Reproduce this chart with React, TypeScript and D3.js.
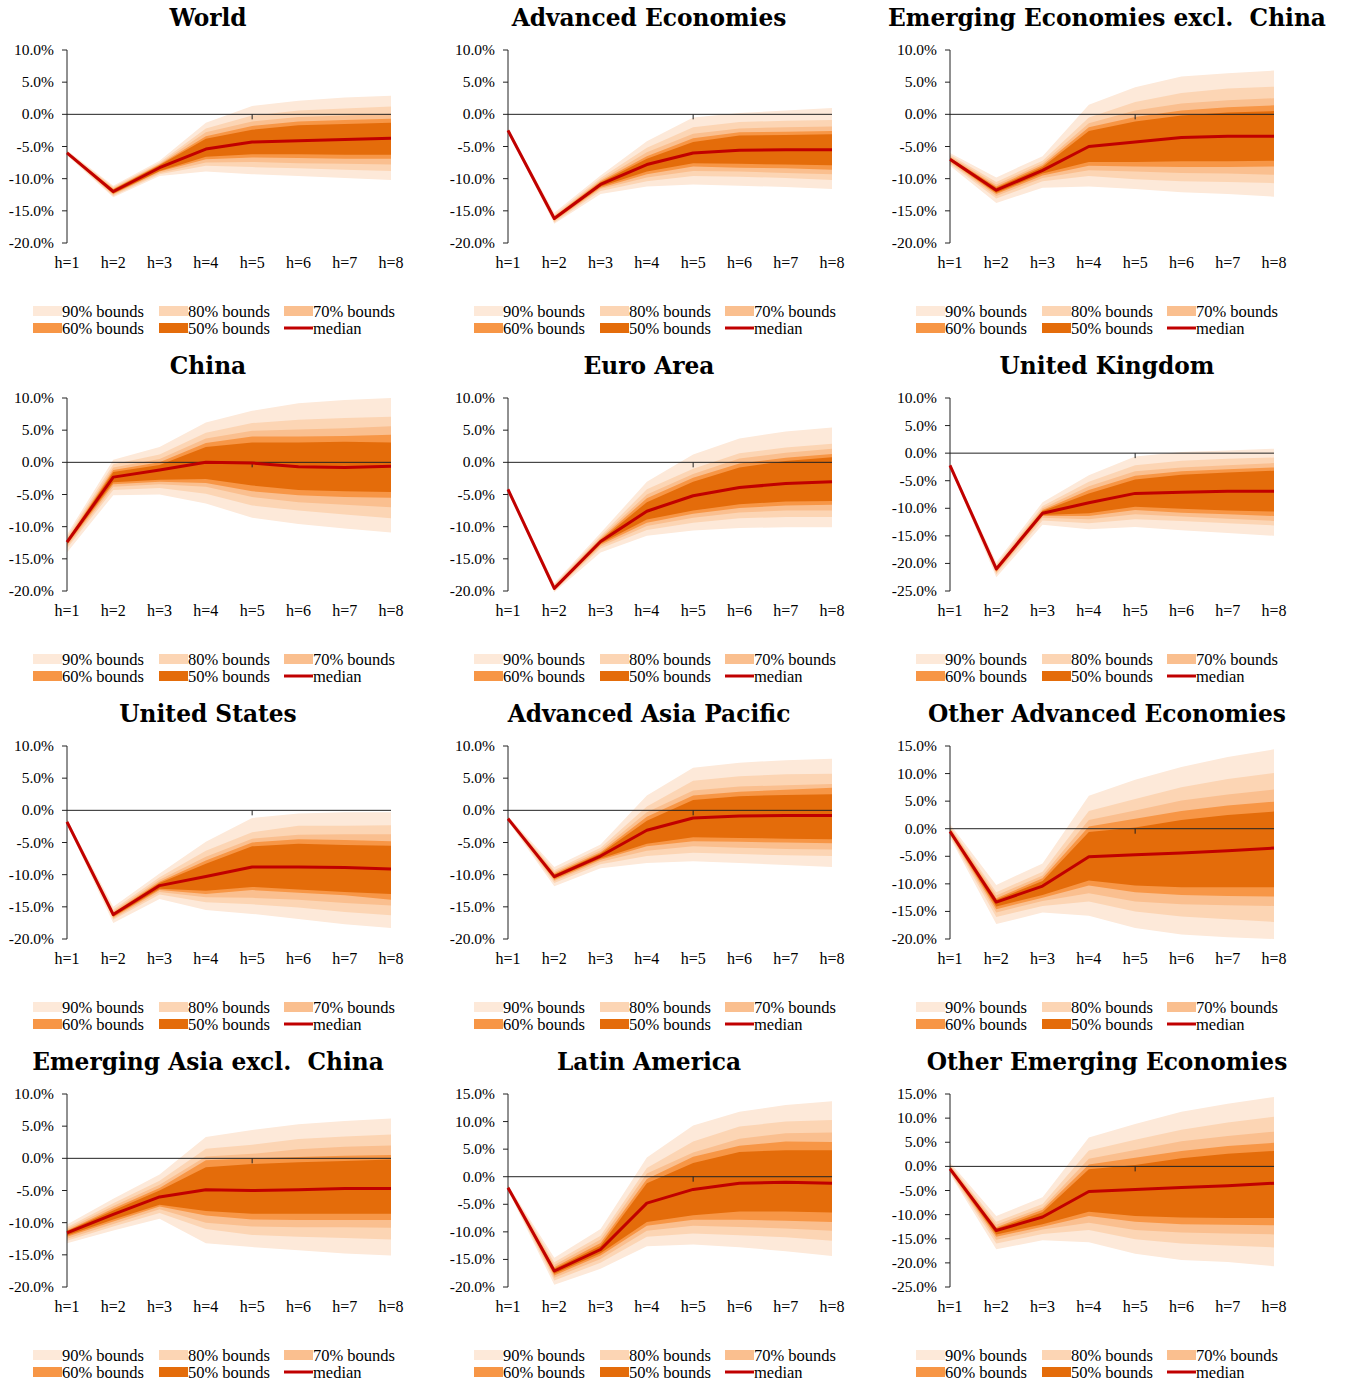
import React from 'react';
import * as d3 from 'd3';

// horizons on the x axis
const horizons = ['h=1', 'h=2', 'h=3', 'h=4', 'h=5', 'h=6', 'h=7', 'h=8'];
const bandNames = ['90% bounds', '80% bounds', '70% bounds', '60% bounds', '50% bounds'];

// each panel: median, upper bounds (90,80,70,60,50), lower bounds (90,80,70,60,50)
const world_median = [-6.0, -12.0, -8.3, -5.4, -4.3, -4.1, -3.9, -3.7];
const world_upper = [
  [-5.6, -11.1, -7.2, -1.3, 1.3, 2.1, 2.6, 2.9],
  [-5.7, -11.3, -7.5, -2.2, -0.2, 0.6, 0.9, 1.2],
  [-5.8, -11.5, -7.7, -2.8, -1.1, -0.4, -0.2, 0.1],
  [-5.85, -11.6, -7.8, -3.4, -1.8, -1.1, -0.9, -0.7],
  [-5.9, -11.7, -7.9, -3.8, -2.4, -1.7, -1.5, -1.3],
];
const world_lower = [
  [-6.4, -12.9, -9.6, -8.9, -9.3, -9.6, -9.9, -10.2],
  [-6.3, -12.7, -9.3, -8.0, -8.2, -8.4, -8.6, -8.8],
  [-6.2, -12.5, -9.1, -7.5, -7.4, -7.6, -7.7, -7.8],
  [-6.15, -12.4, -8.9, -7.0, -6.7, -6.8, -6.9, -6.9],
  [-6.1, -12.3, -8.8, -6.6, -6.2, -6.2, -6.3, -6.3],
];

const adv_median = [-2.5, -16.2, -10.9, -7.8, -6.0, -5.6, -5.5, -5.5];
const adv_upper = [
  [-2.2, -15.3, -9.5, -4.2, -0.5, 0.2, 0.6, 1.0],
  [-2.3, -15.6, -9.9, -5.2, -2.0, -1.2, -1.0, -0.9],
  [-2.35, -15.8, -10.2, -5.9, -3.0, -2.2, -2.0, -1.9],
  [-2.4, -15.9, -10.4, -6.5, -3.7, -2.8, -2.7, -2.6],
  [-2.45, -16.0, -10.6, -6.9, -4.3, -3.3, -3.2, -3.1],
];
const adv_lower = [
  [-2.8, -17.0, -12.4, -11.2, -10.9, -11.1, -11.3, -11.6],
  [-2.7, -16.8, -11.9, -10.4, -9.6, -9.7, -9.9, -10.2],
  [-2.65, -16.6, -11.6, -9.8, -8.8, -8.9, -9.1, -9.3],
  [-2.6, -16.5, -11.4, -9.3, -8.1, -8.3, -8.4, -8.6],
  [-2.55, -16.4, -11.2, -8.9, -7.6, -7.7, -7.8, -7.9],
];

const emxc_median = [-7.0, -11.8, -8.7, -5.0, -4.3, -3.6, -3.4, -3.4];
const emxc_upper = [
  [-6.0, -9.8, -6.5, 1.5, 4.2, 5.9, 6.4, 6.8],
  [-6.3, -10.5, -7.2, -0.5, 1.9, 3.3, 4.0, 4.3],
  [-6.5, -10.9, -7.6, -1.4, 0.6, 1.7, 2.2, 2.5],
  [-6.7, -11.2, -7.9, -2.0, -0.4, 0.6, 1.1, 1.4],
  [-6.8, -11.4, -8.2, -2.6, -1.1, -0.2, 0.3, 0.5],
];
const emxc_lower = [
  [-8.0, -13.8, -11.4, -11.2, -11.6, -12.1, -12.4, -12.8],
  [-7.7, -13.1, -10.4, -9.6, -10.1, -10.4, -10.5, -10.7],
  [-7.5, -12.7, -9.9, -8.7, -8.9, -9.1, -9.2, -9.4],
  [-7.3, -12.4, -9.5, -8.0, -8.1, -8.2, -8.2, -8.1],
  [-7.2, -12.2, -9.2, -7.4, -7.4, -7.3, -7.3, -7.2],
];

const china_median = [-12.4, -2.3, -1.2, 0.0, -0.1, -0.7, -0.8, -0.6];
const china_upper = [
  [-11.2, 0.4, 2.4, 6.2, 8.0, 9.2, 9.7, 10.0],
  [-11.6, -0.3, 1.2, 4.6, 6.1, 6.6, 6.9, 7.1],
  [-11.9, -0.8, 0.5, 3.7, 4.9, 5.1, 5.3, 5.6],
  [-12.1, -1.2, 0.0, 3.0, 4.0, 4.0, 4.1, 4.3],
  [-12.2, -1.5, -0.4, 2.4, 3.1, 3.1, 3.2, 3.1],
];
const china_lower = [
  [-14.0, -5.1, -5.0, -6.4, -8.6, -9.6, -10.3, -10.9],
  [-13.4, -4.3, -4.0, -4.9, -6.7, -7.5, -8.1, -8.7],
  [-13.1, -3.8, -3.4, -3.8, -5.4, -6.2, -6.6, -7.0],
  [-12.8, -3.4, -3.0, -3.2, -4.5, -5.1, -5.4, -5.5],
  [-12.6, -3.1, -2.7, -2.6, -3.6, -4.3, -4.5, -4.6],
];

const euro_median = [-4.2, -19.6, -12.3, -7.6, -5.2, -3.9, -3.3, -3.0];
const euro_upper = [
  [-3.9, -18.8, -11.0, -3.0, 1.2, 3.7, 4.8, 5.4],
  [-4.0, -19.0, -11.4, -4.2, -1.0, 1.4, 2.3, 2.9],
  [-4.05, -19.2, -11.7, -5.0, -1.8, 0.6, 1.5, 2.1],
  [-4.1, -19.3, -11.9, -5.6, -2.4, -0.2, 0.7, 1.3],
  [-4.15, -19.4, -12.1, -6.2, -3.0, -0.8, 0.2, 0.8],
];
const euro_lower = [
  [-4.5, -20.2, -14.0, -11.4, -10.6, -10.2, -10.1, -10.1],
  [-4.4, -20.0, -13.4, -10.5, -9.4, -8.7, -8.5, -8.5],
  [-4.35, -19.9, -13.1, -9.9, -8.6, -7.8, -7.5, -7.5],
  [-4.3, -19.8, -12.8, -9.4, -8.0, -7.1, -6.7, -6.6],
  [-4.25, -19.7, -12.6, -8.9, -7.5, -6.5, -6.1, -6.0],
];

const uk_median = [-2.2, -21.0, -10.9, -9.0, -7.3, -7.1, -6.9, -6.9];
const uk_upper = [
  [-1.9, -19.8, -8.9, -4.0, -0.6, 0.2, 0.5, 0.8],
  [-2.0, -20.2, -9.6, -5.2, -2.2, -1.4, -1.0, -0.8],
  [-2.05, -20.5, -10.0, -6.0, -3.3, -2.6, -2.2, -1.8],
  [-2.1, -20.7, -10.3, -6.7, -4.1, -3.3, -2.9, -2.6],
  [-2.15, -20.8, -10.5, -7.3, -4.8, -3.9, -3.5, -3.2],
];
const uk_lower = [
  [-2.6, -22.5, -13.0, -13.8, -13.4, -14.0, -14.5, -15.0],
  [-2.5, -22.0, -12.2, -12.7, -12.0, -12.3, -12.7, -13.1],
  [-2.4, -21.7, -11.7, -12.0, -11.1, -11.5, -11.9, -12.3],
  [-2.35, -21.5, -11.4, -11.4, -10.3, -10.8, -11.1, -11.4],
  [-2.3, -21.3, -11.2, -10.9, -9.7, -10.1, -10.4, -10.6],
];

const us_median = [-1.8, -16.2, -11.7, -10.3, -8.8, -8.8, -8.9, -9.1];
const us_upper = [
  [-1.4, -15.0, -9.8, -4.9, -1.2, -0.5, -0.3, -0.3],
  [-1.5, -15.4, -10.4, -6.3, -3.4, -2.4, -2.4, -2.3],
  [-1.6, -15.7, -10.8, -7.2, -4.4, -3.8, -3.7, -3.7],
  [-1.65, -15.9, -11.1, -7.8, -5.0, -4.5, -4.6, -4.8],
  [-1.7, -16.0, -11.3, -8.3, -5.6, -5.2, -5.4, -5.5],
];
const us_lower = [
  [-2.2, -17.5, -13.8, -15.5, -16.1, -16.9, -17.7, -18.3],
  [-2.1, -17.0, -13.1, -14.3, -14.6, -15.1, -15.8, -16.3],
  [-2.0, -16.8, -12.7, -13.5, -13.6, -13.9, -14.4, -14.8],
  [-1.95, -16.6, -12.4, -13.0, -12.4, -12.8, -13.2, -13.9],
  [-1.9, -16.5, -12.2, -12.5, -11.9, -12.3, -12.7, -13.0],
];

const aap_median = [-1.3, -10.3, -7.1, -3.1, -1.2, -0.9, -0.8, -0.8];
const aap_upper = [
  [-0.9, -8.8, -5.3, 2.3, 6.6, 7.4, 7.8, 8.0],
  [-1.0, -9.3, -5.8, 0.6, 4.6, 5.3, 5.6, 5.7],
  [-1.1, -9.6, -6.2, -0.3, 3.1, 3.7, 3.9, 4.1],
  [-1.15, -9.8, -6.5, -1.0, 2.3, 2.9, 3.2, 3.5],
  [-1.2, -10.0, -6.7, -1.6, 1.6, 2.2, 2.4, 2.5],
];
const aap_lower = [
  [-1.7, -11.8, -9.0, -8.2, -7.9, -8.2, -8.5, -8.8],
  [-1.6, -11.3, -8.4, -7.1, -6.6, -6.8, -7.0, -7.1],
  [-1.5, -11.0, -8.0, -6.3, -5.6, -5.8, -6.0, -6.1],
  [-1.45, -10.8, -7.7, -5.6, -4.8, -4.9, -5.0, -5.1],
  [-1.4, -10.6, -7.5, -5.2, -4.2, -4.3, -4.4, -4.5],
];

const oae_median = [-0.5, -13.3, -10.4, -5.1, -4.7, -4.4, -4.0, -3.5];
const oae_upper = [
  [0.8, -10.2, -6.3, 6.0, 8.9, 11.2, 13.0, 14.4],
  [0.4, -11.5, -7.8, 3.2, 5.4, 7.5, 9.0, 10.1],
  [0.2, -12.1, -8.5, 1.6, 3.3, 5.1, 6.2, 7.1],
  [0.0, -12.6, -9.0, 0.4, 1.8, 3.2, 4.2, 4.9],
  [-0.2, -12.9, -9.5, -0.6, 0.2, 1.6, 2.5, 3.1],
];
const oae_lower = [
  [-1.6, -17.3, -15.2, -15.8, -18.0, -19.2, -19.7, -20.0],
  [-1.3, -16.0, -14.0, -13.2, -15.0, -15.9, -16.4, -16.9],
  [-1.1, -15.2, -13.1, -11.7, -13.2, -13.7, -13.9, -14.0],
  [-0.9, -14.6, -12.5, -10.3, -11.5, -12.0, -12.2, -12.3],
  [-0.8, -14.1, -12.0, -9.4, -10.3, -10.6, -10.6, -10.6],
];

const eaxc_median = [-11.6, -8.7, -6.0, -4.9, -5.0, -4.9, -4.7, -4.7];
const eaxc_upper = [
  [-10.3, -6.3, -2.5, 3.3, 4.4, 5.3, 5.8, 6.2],
  [-10.7, -7.0, -3.5, 1.5, 2.1, 3.0, 3.4, 3.7],
  [-11.0, -7.4, -4.1, 0.3, 0.7, 1.4, 1.8, 2.0],
  [-11.2, -7.8, -4.6, -0.3, 0.0, 0.2, 0.4, 0.5],
  [-11.3, -8.1, -5.0, -1.4, -0.9, -0.6, -0.4, -0.2],
];
const eaxc_lower = [
  [-13.2, -11.2, -9.4, -13.2, -13.8, -14.3, -14.8, -15.1],
  [-12.8, -10.6, -8.5, -11.0, -11.9, -12.2, -12.4, -12.6],
  [-12.5, -10.2, -7.9, -10.0, -10.6, -10.7, -10.7, -10.8],
  [-12.2, -9.8, -7.5, -8.9, -9.5, -9.6, -9.6, -9.6],
  [-12.0, -9.5, -7.2, -8.2, -8.6, -8.6, -8.6, -8.6],
];

const latam_median = [-2.0, -17.1, -13.2, -4.8, -2.3, -1.2, -1.0, -1.2];
const latam_upper = [
  [-1.5, -14.7, -9.5, 3.5, 9.3, 11.8, 13.0, 13.7],
  [-1.6, -15.5, -10.7, 1.6, 6.4, 9.1, 10.0, 10.3],
  [-1.7, -16.0, -11.4, 0.6, 4.4, 6.9, 7.9, 8.0],
  [-1.8, -16.4, -12.0, -0.4, 3.6, 5.6, 6.4, 6.3],
  [-1.9, -16.7, -12.5, -1.2, 2.5, 4.5, 4.8, 4.8],
];
const latam_lower = [
  [-2.5, -19.6, -16.7, -12.6, -12.3, -12.8, -13.5, -14.4],
  [-2.4, -18.8, -15.6, -10.9, -10.3, -10.6, -11.0, -11.6],
  [-2.3, -18.3, -14.9, -9.8, -8.9, -9.1, -9.4, -9.8],
  [-2.2, -17.9, -14.3, -8.9, -7.8, -7.8, -8.0, -8.2],
  [-2.1, -17.6, -13.9, -8.2, -7.0, -6.3, -6.3, -6.5],
];

const oee_median = [-0.5, -13.3, -10.5, -5.2, -4.8, -4.4, -4.0, -3.5];
const oee_upper = [
  [0.8, -10.3, -6.4, 6.0, 8.8, 11.3, 13.0, 14.4],
  [0.4, -11.5, -7.8, 3.3, 5.5, 7.6, 9.1, 10.3],
  [0.2, -12.1, -8.5, 1.6, 3.4, 5.2, 6.3, 7.2],
  [0.0, -12.6, -9.0, 0.4, 1.8, 3.2, 4.2, 4.9],
  [-0.2, -12.9, -9.5, -0.6, 0.3, 1.7, 2.6, 3.2],
];
const oee_lower = [
  [-1.6, -17.2, -15.3, -15.7, -18.1, -19.4, -19.8, -20.7],
  [-1.3, -16.0, -14.0, -13.2, -15.1, -16.0, -16.4, -16.8],
  [-1.1, -15.2, -13.1, -11.7, -13.2, -13.7, -13.9, -14.1],
  [-0.9, -14.6, -12.5, -10.3, -11.5, -12.0, -12.1, -12.2],
  [-0.8, -14.1, -12.0, -9.4, -10.3, -10.6, -10.7, -10.7],
];

const panels = [
  { title: 'World', yMin: -20, yMax: 10, median: world_median, upper: world_upper, lower: world_lower },
  { title: 'Advanced Economies', yMin: -20, yMax: 10, median: adv_median, upper: adv_upper, lower: adv_lower },
  { title: 'Emerging Economies excl.  China', yMin: -20, yMax: 10, median: emxc_median, upper: emxc_upper, lower: emxc_lower },
  { title: 'China', yMin: -20, yMax: 10, median: china_median, upper: china_upper, lower: china_lower },
  { title: 'Euro Area', yMin: -20, yMax: 10, median: euro_median, upper: euro_upper, lower: euro_lower },
  { title: 'United Kingdom', yMin: -25, yMax: 10, median: uk_median, upper: uk_upper, lower: uk_lower },
  { title: 'United States', yMin: -20, yMax: 10, median: us_median, upper: us_upper, lower: us_lower },
  { title: 'Advanced Asia Pacific', yMin: -20, yMax: 10, median: aap_median, upper: aap_upper, lower: aap_lower },
  { title: 'Other Advanced Economies', yMin: -20, yMax: 15, median: oae_median, upper: oae_upper, lower: oae_lower },
  { title: 'Emerging Asia excl.  China', yMin: -20, yMax: 10, median: eaxc_median, upper: eaxc_upper, lower: eaxc_lower },
  { title: 'Latin America', yMin: -20, yMax: 15, median: latam_median, upper: latam_upper, lower: latam_lower },
  { title: 'Other Emerging Economies', yMin: -25, yMax: 15, median: oee_median, upper: oee_upper, lower: oee_lower },
];

const bandColors = ['#FDE9D9', '#FCD5B4', '#FABF8F', '#F79646', '#E46C0A'];
const medianColor = '#C00000';

// layout
const W = 1348, H = 1382;
const axisX = [67, 508, 950];
const titleX = [208, 649, 1107];
const rowTop = 50, rowStep = 348;
const plotW = 324, plotH = 193;
const serif = 'Liberation Serif';

const Panel = ({ p, col, row }) => {
  const left = axisX[col];
  const top = rowTop + row * rowStep;
  const x = d3.scalePoint().domain(horizons).range([left, left + plotW]);
  const y = d3.scaleLinear().domain([p.yMin, p.yMax]).range([top + plotH, top]);
  const ticks = d3.range(p.yMin, p.yMax + 0.001, 5);

  const area = (lo, hi) =>
    d3
      .area()
      .x((d, i) => x(horizons[i]))
      .y0((d, i) => y(lo[i]))
      .y1((d, i) => y(hi[i]))(lo);
  const line = d3
    .line()
    .x((d, i) => x(horizons[i]))
    .y((d) => y(d));

  const legendY = top + 256;
  const legendCols = [left - 34, left + 92, left + 217];

  return (
    <g>
      <text
        x={titleX[col]}
        y={top - 24}
        textAnchor="middle"
        fontFamily="DejaVu Serif"
        fontWeight="bold"
        fontSize={23.3}
        style={{ whiteSpace: 'pre' }}
      >
        {p.title}
      </text>

      {/* fan bands, widest first */}
      {bandColors.map((c, k) => (
        <path key={k} d={area(p.lower[k], p.upper[k])} fill={c} />
      ))}

      {/* y axis */}
      <line x1={left} x2={left} y1={y(p.yMax)} y2={y(p.yMin)} stroke="#222" strokeWidth={1} />
      {ticks.map((t) => (
        <g key={t}>
          <line x1={left - 5} x2={left} y1={y(t)} y2={y(t)} stroke="#222" />
          <text x={left - 13} y={y(t) + 5} textAnchor="end" fontFamily={serif} fontSize={15.5}>
            {t.toFixed(1)}%
          </text>
        </g>
      ))}

      {/* zero line with a single tick at h=5 */}
      <line x1={left} x2={left + plotW} y1={y(0)} y2={y(0)} stroke="#222" strokeWidth={1} />
      <line x1={x('h=5')} x2={x('h=5')} y1={y(0)} y2={y(0) + 5} stroke="#222" />

      <path d={line(p.median)} fill="none" stroke={medianColor} strokeWidth={3} strokeLinejoin="round" />

      {horizons.map((h) => (
        <text key={h} x={x(h)} y={top + 218} textAnchor="middle" fontFamily={serif} fontSize={16}>
          {h}
        </text>
      ))}

      {/* legend */}
      {bandNames.map((name, k) => {
        const lx = legendCols[k % 3];
        const ly = legendY + Math.floor(k / 3) * 17;
        return (
          <g key={name}>
            <rect x={lx} y={ly} width={29} height={10} fill={bandColors[k]} />
            <text x={lx + 29} y={ly + 11} fontFamily={serif} fontSize={16.5}>
              {name}
            </text>
          </g>
        );
      })}
      <line x1={legendCols[2]} x2={legendCols[2] + 29} y1={legendY + 22} y2={legendY + 22} stroke={medianColor} strokeWidth={3} />
      <text x={legendCols[2] + 29} y={legendY + 28} fontFamily={serif} fontSize={16.5}>
        median
      </text>
    </g>
  );
};

const App = () => (
  <svg width={W} height={H} style={{ position: 'absolute', left: 0, top: 0, background: '#fff' }}>
    {panels.map((p, i) => (
      <Panel key={p.title} p={p} col={i % 3} row={Math.floor(i / 3)} />
    ))}
  </svg>
);

export default App;
